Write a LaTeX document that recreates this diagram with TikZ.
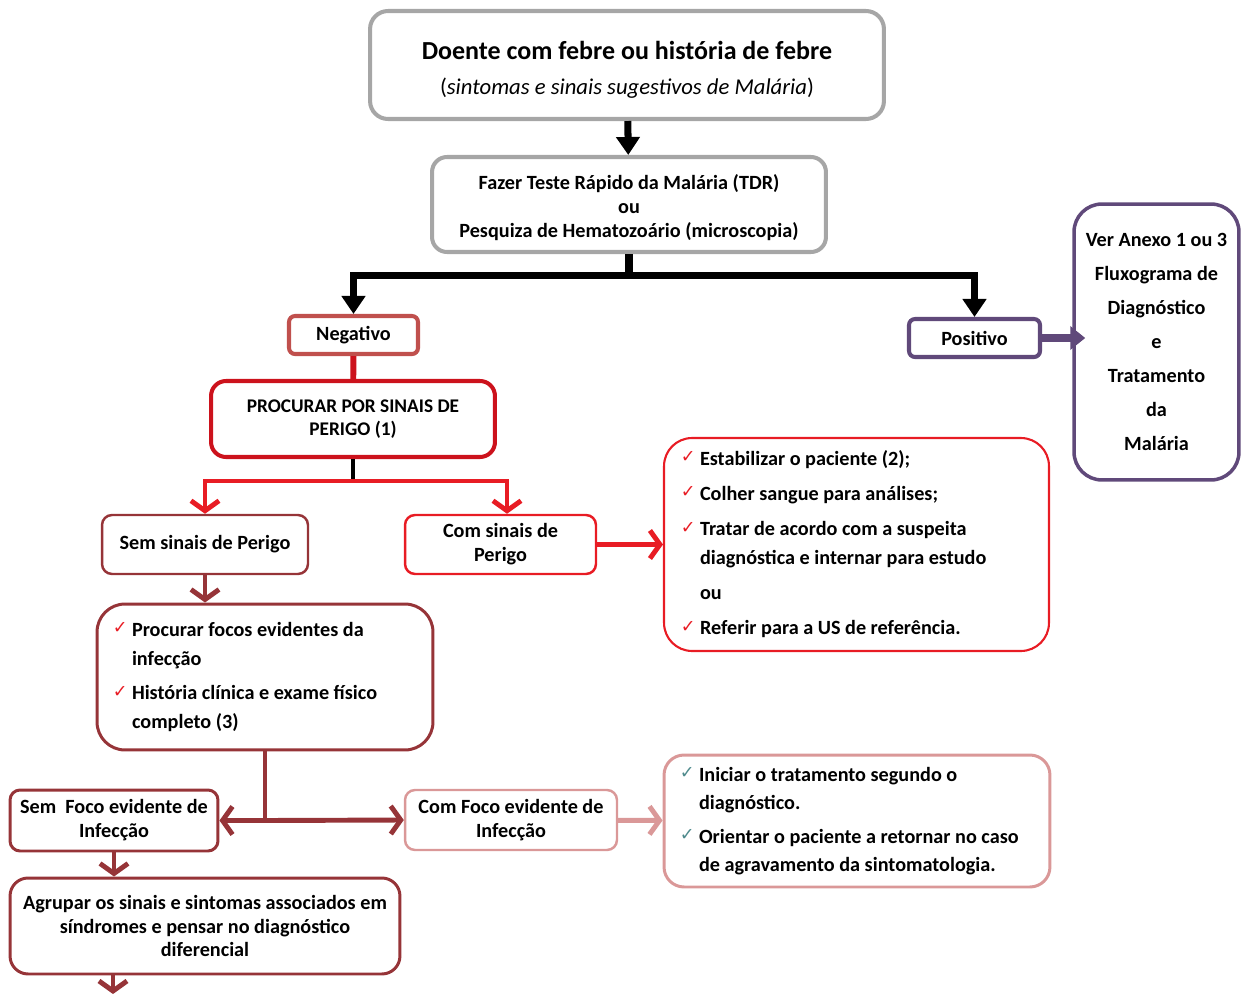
\documentclass[tikz,border=0pt]{standalone}
\usepackage{fontspec}
\setmainfont{Carlito}
\newfontfamily\symf{DejaVu Sans}
\usetikzlibrary{arrows.meta,positioning}
\definecolor{bxgray}{RGB}{166,166,166}
\definecolor{negred}{RGB}{192,80,77}
\definecolor{pospur}{RGB}{96,73,122}
\definecolor{alred}{RGB}{204,18,28}
\definecolor{brred}{RGB}{232,28,36}
\definecolor{dkred}{RGB}{150,52,56}
\definecolor{ltpink}{RGB}{218,152,152}
\definecolor{chkteal}{RGB}{78,138,140}
\newcommand{\tick}[1]{\llap{\raisebox{1.6pt}{\symf\fontsize{10}{10}\selectfont\color{#1}✓}\hspace{2.5pt}}}
\newcommand{\lista}[2]{\makebox[#1][l]{\begin{tabular}{@{}l@{}}#2\end{tabular}}}
\tikzset{
  box/.style={draw, align=center, inner sep=0pt, font=\bfseries\fontsize{11.5}{13.6}\selectfont},
  gbox/.style={box, draw=bxgray, line width=2.3pt},
  lbox/.style={box, line width=1.2pt, font=\bfseries\fontsize{11.5}{16.4}\selectfont},
  blkarr/.style={line width=4pt, -{Triangle[length=0.36cm,width=0.46cm]}},
  blk/.style={line width=4pt},
  redln/.style={brred, line width=2.8pt},
  redarr/.style={redln, -{Straight Barb[length=0.2cm,width=0.56cm]}},
  dkarr/.style={dkred, line width=2.8pt, -{Straight Barb[length=0.2cm,width=0.56cm]}},
}
\begin{document}
\begin{tikzpicture}[x=0.02cm, y=-0.02cm]
  \useasboundingbox (0,0) rectangle (1242,994);
  % topo
  \node[gbox, minimum width=10.28cm, minimum height=2.16cm, rounded corners=0.36cm,
    font=\bfseries\fontsize{14.8}{19.8}\selectfont] (fev) at (627,65)
    {\rule{0pt}{16pt}Doente com febre ou história de febre\\
     {\mdseries\fontsize{12.9}{19.8}\selectfont(\textit{sintomas e sinais sugestivos de Malária})}};
  \node[gbox, minimum width=7.88cm, minimum height=1.9cm, rounded corners=0.3cm,
    font=\bfseries\fontsize{11.5}{13.9}\selectfont] (tdr) at (629,204.5)
    {\rule{0pt}{12pt}Fazer Teste Rápido da Malária (TDR)\\ou\\Pesquiza de Hematozoário (microscopia)};
  \node[box, draw=negred, line width=2.3pt, minimum width=2.58cm, minimum height=0.76cm,
    rounded corners=0.12cm] (neg) at (353.5,335) {Negativo};
  \node[box, draw=pospur, line width=2.3pt, minimum width=2.62cm, minimum height=0.76cm,
    rounded corners=0.12cm] (pos) at (974.5,338) {Positivo};
  \node[box, draw=pospur, line width=2pt, minimum width=3.3cm, minimum height=5.52cm,
    rounded corners=0.56cm, font=\bfseries\fontsize{11.5}{19.4}\selectfont] (anx) at (1156.5,342)
    {Ver Anexo 1 ou 3\\Fluxograma de\\Diagnóstico\\e\\Tratamento\\da\\Malária};
  % ramo negativo
  \node[box, draw=alred, line width=2.3pt, minimum width=5.68cm, minimum height=1.52cm,
    rounded corners=0.3cm, font=\bfseries\fontsize{11}{13}\selectfont] (proc) at (353,419)
    {PROCURAR POR SINAIS DE\\PERIGO (1)};
  \node[box, draw=dkred, line width=1.4pt, minimum width=4.12cm, minimum height=1.18cm,
    rounded corners=0.2cm] (semsin) at (205,544.5) {Sem sinais de Perigo};
  \node[box, draw=brred, line width=1.4pt, minimum width=3.82cm, minimum height=1.18cm,
    rounded corners=0.2cm] (comsin) at (500.5,544.5) {Com sinais de\\Perigo};
  \node[lbox, draw=brred, minimum width=7.7cm, minimum height=4.26cm,
    rounded corners=0.56cm] (perigo) at (856.5,544.5)
    {\lista{6.26cm}{\tick{brred}Estabilizar o paciente (2);\\[3.6pt]
     \tick{brred}Colher sangue para análises;\\[3.6pt]
     \tick{brred}Tratar de acordo com a suspeita\\
     diagnóstica e internar para estudo\\[3.6pt]
     ou\\[3.6pt]
     \tick{brred}Referir para a US de referência.}};
  \node[lbox, draw=dkred, line width=1.7pt, minimum width=6.72cm,
    minimum height=2.92cm, rounded corners=0.56cm] (focos) at (265,677)
    {\lista{5.32cm}{\tick{brred}Procurar focos evidentes da\\
     infecção\\[3.2pt]
     \tick{brred}História clínica e exame físico\\
     completo (3)}};
  \node[box, draw=dkred, line width=1.7pt, minimum width=4.16cm, minimum height=1.22cm,
    rounded corners=0.2cm] (semfoco) at (114,820.5) {Sem~ Foco evidente de\\Infecção};
  \node[box, draw=ltpink, line width=1.4pt, minimum width=4.24cm, minimum height=1.2cm,
    rounded corners=0.2cm] (comfoco) at (511,820) {Com Foco evidente de\\Infecção};
  \node[lbox, draw=ltpink, line width=1.7pt, minimum width=7.72cm, minimum height=2.64cm,
    rounded corners=0.4cm, font=\bfseries\fontsize{11.5}{15.9}\selectfont] (trat) at (857,821)
    {\lista{6.32cm}{\tick{chkteal}Iniciar o tratamento segundo o\\
     diagnóstico.\\[3.4pt]
     \tick{chkteal}Orientar o paciente a retornar no caso\\
     de agravamento da sintomatologia.}};
  \node[box, draw=dkred, line width=1.7pt, minimum width=7.8cm, minimum height=1.92cm,
    rounded corners=0.36cm] (agr) at (205,926)
    {Agrupar os sinais e sintomas associados em\\síndromes e pensar no diagnóstico\\diferencial};
  \coordinate (fim) at (113,994);
  % ligacoes
  \draw[blkarr] (fev) -- (tdr);
  \draw[blk] (tdr.south) -- ++(0,21) coordinate (jt);
  \draw[blkarr] (jt) -| (neg.north);
  \draw[blkarr] (jt) -| (pos.north);
  \draw[pospur, line width=4pt, -{Triangle[length=0.3cm,width=0.46cm]}]
    (pos.east) -- ([xshift=0.26cm]pos.east -| anx.west);
  \draw[alred, line width=3.4pt] (neg) -- (proc);
  \draw[line width=2.8pt] (proc.south) -- ++(0,22) coordinate (jp);
  \draw[redarr] (jp) -| (semsin.north);
  \draw[redarr] (jp) -| ([xshift=0.13cm]comsin.north);
  \draw[redarr] (comsin) -- (perigo);
  \draw[dkarr] (semsin.south) -- (semsin.south |- focos.north);
  \draw[dkred, line width=2.8pt] (focos.south) -- (focos.south |- semfoco.east) coordinate (jf);
  \draw[dkarr] (jf) -- (semfoco.east);
  \draw[dkarr] (jf) -- (comfoco.west);
  \draw[ltpink, line width=2.8pt, -{Straight Barb[length=0.2cm,width=0.56cm]}] (comfoco) -- (trat);
  \draw[dkarr] (semfoco.south) -- (semfoco.south |- agr.north);
  \draw[dkarr] (agr.south -| fim) -- (fim);
\end{tikzpicture}
\end{document}
